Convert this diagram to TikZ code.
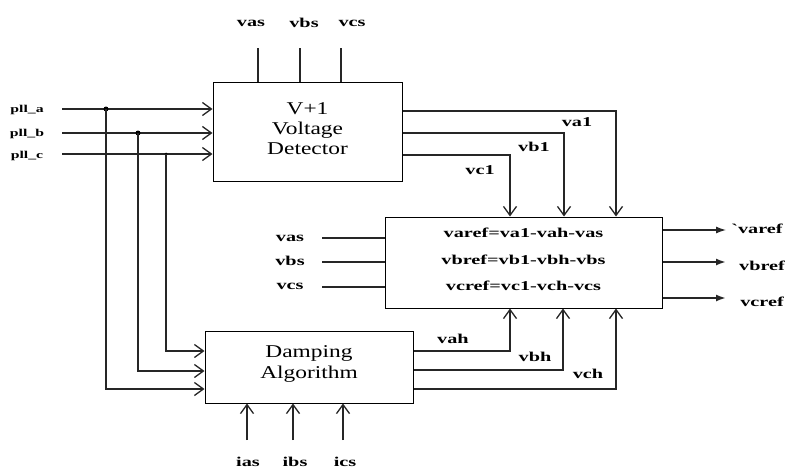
\documentclass[tikz,border=0pt]{standalone}
\usepackage{fontspec}
\setmainfont{Liberation Serif}
\newfontfamily\widefont[FakeStretch=1.5]{Liberation Serif}
\newfontfamily\midfont[FakeStretch=1.3]{Liberation Serif}
\usetikzlibrary{arrows.meta}
\begin{document}
\begin{tikzpicture}[x=1pt,y=-1pt,
  blk/.style={draw, line width=1pt, inner sep=0pt, align=center},
  conn/.style={line width=1.8pt, draw=black!85},
  thinconn/.style={line width=1.3pt, draw=black!85},
  barb/.style={-{Straight Barb[length=9pt,width=13pt,line width=1.3pt]}},
  fill tip/.style={-{Latex[length=10pt,width=7pt]}},
  lbl/.style={font=\widefont\bfseries\fontsize{13.5}{14}\selectfont, inner sep=0pt},
  slbl/.style={font=\widefont\bfseries\fontsize{10.5}{11}\selectfont, inner sep=0pt},
  dot/.style={circle, fill=black, inner sep=0pt, minimum size=5pt}]
\useasboundingbox (0,0) rectangle (790,471);
\fill[white] (0,0) rectangle (790,471);

% blocks
\node[blk, minimum width=189pt, minimum height=99pt,
  font=\midfont\fontsize{18}{20}\selectfont] (vd) at (307.5,131.5)
  {V+1\\ Voltage\\ Detector\\[-14.5pt]};
\node[blk, minimum width=277pt, minimum height=91pt,
  font=\widefont\bfseries\fontsize{13.5}{26.5}\selectfont] (fb) at (523.5,262.5)
  {varef=va1-vah-vas\\ vbref=vb1-vbh-vbs\\ vcref=vc1-vch-vcs\\[-20.5pt]};
\node[blk, minimum width=208pt, minimum height=72pt,
  font=\midfont\fontsize{18}{21}\selectfont] (dm) at (309,367)
  {Damping\\ Algorithm\\[-12pt]};

% top inputs of V+1
\node[lbl] (tvas) at (251,23) {vas};
\node[lbl] (tvbs) at (304,23) {vbs};
\node[lbl] (tvcs) at (352,23) {vcs};
\coordinate (ta) at (258,48); \coordinate (tb) at (300,48); \coordinate (tc) at (341,48);
\draw[conn] (ta) -- (ta |- vd.north);
\draw[conn] (tb) -- (tb |- vd.north);
\draw[conn] (tc) -- (tc |- vd.north);

% pll inputs
\node[slbl] (pa) at (27,110) {pll\_a};
\node[slbl] (pb) at (27,134) {pll\_b};
\node[slbl] (pc) at (27,156) {pll\_c};
\coordinate (pa0) at (62,109); \coordinate (pb0) at (62,133); \coordinate (pc0) at (62,154);
\draw[conn, barb] (pa0) -- (pa0 -| vd.west);
\draw[conn, barb] (pb0) -- (pb0 -| vd.west);
\draw[thinconn, barb] (pc0) -- (pc0 -| vd.west);
\node[dot] (ja) at (106,109) {};
\node[dot] (jb) at (138,133) {};
\node[dot, minimum size=3pt] (jc) at (166,154) {};
\coordinate (da) at (0,389); \coordinate (db) at (0,371); \coordinate (dc) at (0,351);
\draw[conn, barb] (ja.center) |- (dm.west |- da);
\draw[conn, barb] (jb.center) |- (dm.west |- db);
\draw[conn, barb] (jc.center) |- (dm.west |- dc);

% V+1 outputs
\coordinate (xa) at (616,111); \coordinate (xb) at (564,133); \coordinate (xc) at (510,155);
\draw[conn, barb] (vd.east |- xa) -| (xa |- fb.north);
\draw[conn, barb] (vd.east |- xb) -| (xb |- fb.north);
\draw[conn, barb] (vd.east |- xc) -| (xc |- fb.north);
\node[lbl] (lva1) at (577,122) {va1};
\node[lbl] (lvb1) at (534,147) {vb1};
\node[lbl] (lvc1) at (480,170) {vc1};

% side inputs of formula block
\node[lbl] (svas) at (290,238) {vas};
\node[lbl] (svbs) at (290,261) {vbs};
\node[lbl] (svcs) at (290,286) {vcs};
\coordinate (sa) at (322,238); \coordinate (sb) at (322,262); \coordinate (sc) at (322,287);
\draw[conn] (sa) -- (sa -| fb.west);
\draw[thinconn] (sb) -- (sb -| fb.west);
\draw[thinconn] (sc) -- (sc -| fb.west);

% damping outputs
\coordinate (ha) at (510,351); \coordinate (hb) at (563,370); \coordinate (hc) at (616,389);
\draw[thinconn, barb] (dm.east |- ha) -| (ha |- fb.south);
\draw[conn, barb] (dm.east |- hb) -| (hb |- fb.south);
\draw[conn, barb] (dm.east |- hc) -| (hc |- fb.south);
\node[lbl] (lvah) at (453,339) {vah};
\node[lbl] (lvbh) at (535,357) {vbh};
\node[lbl] (lvch) at (588,374) {vch};

% damping bottom inputs
\node[lbl] (ias) at (248,462) {ias};
\node[lbl] (ibs) at (295,462) {ibs};
\node[lbl] (ics) at (345,462) {ics};
\coordinate (ba) at (247,440); \coordinate (bb) at (293,440); \coordinate (bc) at (343,440);
\draw[conn, barb] (ba) -- (ba |- dm.south);
\draw[conn, barb] (bb) -- (bb |- dm.south);
\draw[conn, barb] (bc) -- (bc |- dm.south);

% outputs
\coordinate (oa) at (726,230); \coordinate (ob) at (726,262); \coordinate (oc) at (726,298);
\draw[thinconn, fill tip] (fb.east |- oa) -- (oa);
\draw[conn, fill tip] (fb.east |- ob) -- (ob);
\draw[conn, fill tip] (fb.east |- oc) -- (oc);
\node[lbl] (ova) at (757,229) {`varef};
\node[lbl] (ovb) at (762,266) {vbref};
\node[lbl] (ovc) at (762,302) {vcref};
\end{tikzpicture}
\end{document}
